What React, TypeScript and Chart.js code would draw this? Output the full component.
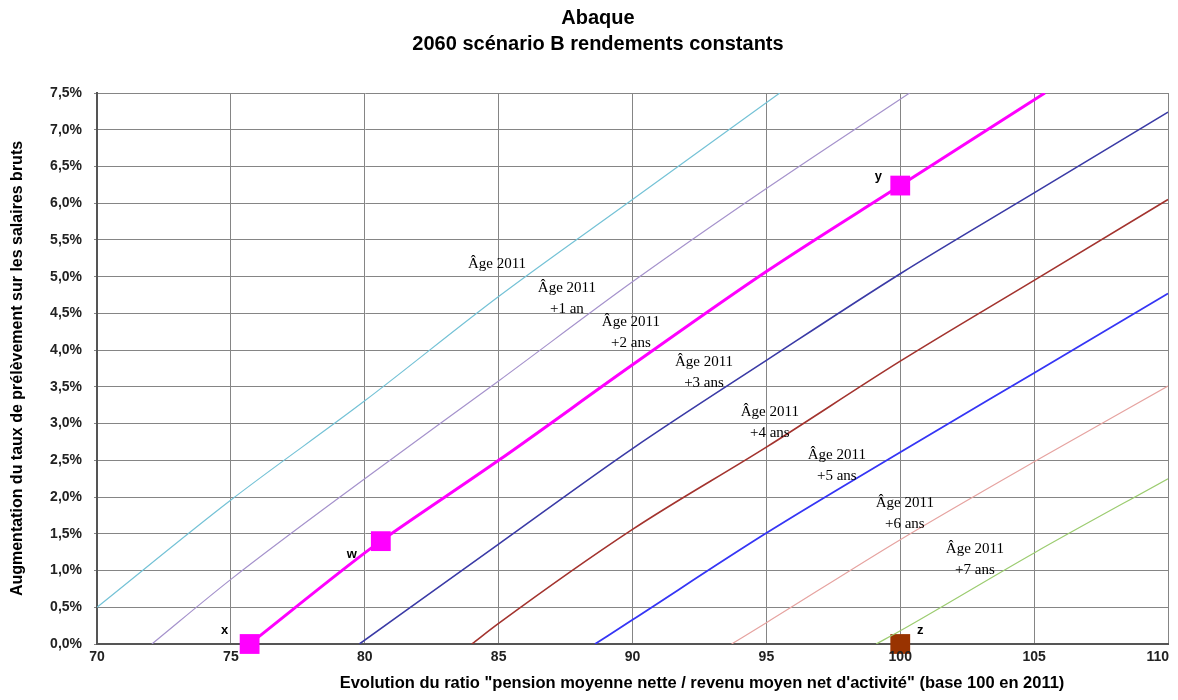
import React, { useEffect, useRef } from "react";
import { Chart, registerables } from "chart.js";

Chart.register(...registerables);

// ---- texts ----
const TITLE_LINES = ["Abaque", "2060 scénario B rendements constants"];
const X_TITLE =
  'Evolution du ratio "pension moyenne nette / revenu moyen net d\'activité" (base 100 en 2011)';
const Y_TITLE = "Augmentation du taux de prélèvement sur les salaires bruts";

// ---- ticks ----
const xTickValues = [70, 75, 80, 85, 90, 95, 100, 105, 110];
const xTickLabels = ["70", "75", "80", "85", "90", "95", "100", "105", "110"];
const yTickValues = [0, 0.5, 1, 1.5, 2, 2.5, 3, 3.5, 4, 4.5, 5, 5.5, 6, 6.5, 7, 7.5];
const yTickLabels = [
  "0,0%", "0,5%", "1,0%", "1,5%", "2,0%", "2,5%", "3,0%", "3,5%",
  "4,0%", "4,5%", "5,0%", "5,5%", "6,0%", "6,5%", "7,0%", "7,5%",
];

// ---- series (x = ratio, y = increase in %) ----
const age0X = [70, 75, 80, 85, 90, 95.5];
const age0Y = [0.5, 1.96, 3.31, 4.73, 6.05, 7.5];
const age1X = [72.05, 75, 80, 85, 90, 95, 100.35];
const age1Y = [0, 0.88, 2.25, 3.58, 4.93, 6.2, 7.5];
const age2X = [75.7, 80, 80.6, 85, 90, 95, 100, 105.4];
const age2Y = [0, 1.24, 1.4, 2.5, 3.8, 5.07, 6.24, 7.5];
const age3X = [79.8, 85, 90, 95, 100, 105, 110];
const age3Y = [0, 1.36, 2.66, 3.86, 5.04, 6.14, 7.24];
const age4X = [84.0, 85, 90, 95, 100, 105, 110];
const age4Y = [0, 0.28, 1.56, 2.68, 3.85, 4.95, 6.05];
const age5X = [88.6, 90, 95, 100, 105, 110];
const age5Y = [0, 0.33, 1.51, 2.61, 3.69, 4.77];
const age6X = [93.7, 95, 100, 105, 110];
const age6Y = [0, 0.29, 1.42, 2.48, 3.51];
const age7X = [99.1, 100, 105, 110];
const age7Y = [0, 0.18, 1.24, 2.25];

const seriesNames = [
  "Âge 2011", "Âge 2011 +1 an", "Âge 2011 +2 ans", "Âge 2011 +3 ans",
  "Âge 2011 +4 ans", "Âge 2011 +5 ans", "Âge 2011 +6 ans", "Âge 2011 +7 ans",
];
const seriesX = [age0X, age1X, age2X, age3X, age4X, age5X, age6X, age7X];
const seriesY = [age0Y, age1Y, age2Y, age3Y, age4Y, age5Y, age6Y, age7Y];
const seriesColors = [
  "#74c2d6", "#a592cc", "#ff00ff", "#3a3aa6",
  "#a3332e", "#3535f5", "#e6a3a0", "#9ccc70",
];
const seriesWidths = [1.2, 1.2, 3, 1.6, 1.6, 1.8, 1.2, 1.2];

// ---- highlighted points ----
const markerNames = ["x", "w", "y", "z"];
const markerX = [75.7, 80.6, 100, 100];
const markerY = [0, 1.4, 6.24, 0];
const markerColors = ["#ff00ff", "#ff00ff", "#ff00ff", "#993300"];
const markerLabelDx = [-25, -29, -22, 20];
const markerLabelDy = [-14, 13, -9, -14];

// ---- curve annotations ----
const noteLine1 = ["Âge 2011", "Âge 2011", "Âge 2011", "Âge 2011", "Âge 2011", "Âge 2011", "Âge 2011", "Âge 2011"];
const noteLine2 = ["", "+1 an", "+2 ans", "+3 ans", "+4 ans", "+5 ans", "+6 ans", "+7 ans"];
const noteX = [84.94, 87.55, 89.94, 92.67, 95.13, 97.63, 100.17, 102.79];
const noteY = [5.17, 4.71, 4.25, 3.7, 3.02, 2.44, 1.78, 1.16];

const SANS = "'Liberation Sans', Arial, sans-serif";
const SERIF = "'Liberation Serif', 'Times New Roman', serif";

const overlayPlugin = {
  id: "overlay",
  afterDraw(chart: any) {
    const { ctx, chartArea } = chart;
    const xs = chart.scales.x;
    const ys = chart.scales.y;
    ctx.save();
    ctx.fillStyle = "#000";
    ctx.textAlign = "center";
    ctx.textBaseline = "middle";
    // title
    ctx.font = `bold 20px ${SANS}`;
    const cx = chart.width / 2 + 9;
    ctx.fillText(TITLE_LINES[0], cx, 10);
    ctx.fillText(TITLE_LINES[1], cx, 36);
    // x tick labels
    ctx.font = `bold 14px ${SANS}`;
    ctx.fillStyle = "#222";
    for (let i = 0; i < xTickValues.length; i++) {
      const w = ctx.measureText(xTickLabels[i]).width;
      const px = Math.min(xs.getPixelForValue(xTickValues[i]), chart.width - w / 2 - 1);
      ctx.fillText(xTickLabels[i], px, chartArea.bottom + 13);
    }
    // x axis title
    ctx.fillStyle = "#000";
    ctx.font = `bold 16.5px ${SANS}`;
    ctx.fillText(X_TITLE, 694, Math.min(chartArea.bottom + 44, chart.height - 9));
    // notes
    ctx.font = `15px ${SERIF}`;
    for (let i = 0; i < noteLine1.length; i++) {
      const px = xs.getPixelForValue(noteX[i]);
      const py = ys.getPixelForValue(noteY[i]);
      if (noteLine2[i]) {
        ctx.fillText(noteLine1[i], px, py - 10);
        ctx.fillText(noteLine2[i], px, py + 11);
      } else {
        ctx.fillText(noteLine1[i], px, py);
      }
    }
    // marker labels
    ctx.font = `bold 13px ${SANS}`;
    for (let i = 0; i < markerNames.length; i++) {
      const px = xs.getPixelForValue(markerX[i]);
      const py = ys.getPixelForValue(markerY[i]);
      ctx.fillText(markerNames[i], px + markerLabelDx[i], py + markerLabelDy[i]);
    }
    ctx.restore();
  },
};

export default function App() {
  const ref = useRef<HTMLCanvasElement | null>(null);

  useEffect(() => {
    if (!ref.current) return;
    const datasets: any[] = seriesNames.map((name, i) => ({
      label: name,
      data: seriesX[i].map((xv, j) => ({ x: xv, y: seriesY[i][j] })),
      borderColor: seriesColors[i],
      backgroundColor: seriesColors[i],
      borderWidth: seriesWidths[i],
      showLine: true,
      pointRadius: 0,
      cubicInterpolationMode: "monotone",
    }));
    datasets.push({
      label: "points",
      data: markerX.map((xv, j) => ({ x: xv, y: markerY[j] })),
      pointStyle: "rect",
      pointRadius: 14,
      pointHoverRadius: 14,
      pointBackgroundColor: markerColors,
      pointBorderColor: markerColors,
      pointBorderWidth: 0,
      showLine: false,
      clip: false,
    });

    const chart = new Chart(ref.current, {
      type: "scatter",
      data: { datasets },
      plugins: [overlayPlugin],
      options: {
        animation: false,
        responsive: true,
        maintainAspectRatio: false,
        layout: { autoPadding: false, padding: { top: 85, right: 2, left: 0, bottom: 0 } },
        plugins: {
          legend: { display: false },
          tooltip: { enabled: false },
          title: { display: false },
        },
        scales: {
          x: {
            type: "linear",
            min: 70,
            max: 110,
            afterBuildTicks: (scale: any) => {
              scale.ticks = xTickValues.map((v) => ({ value: v }));
            },
            afterFit: (scale: any) => {
              scale.height = 48;
              scale.paddingLeft = 0;
              scale.paddingRight = 0;
            },
            ticks: { display: false, padding: 0, callback: () => "" },
            grid: { color: "#858585", lineWidth: 1, tickLength: 0 },
            border: { color: "#555", width: 2 },
          },
          y: {
            type: "linear",
            min: 0,
            max: 7.5,
            afterBuildTicks: (scale: any) => {
              scale.ticks = yTickValues.map((v) => ({ value: v }));
            },
            afterFit: (scale: any) => {
              scale.width = 89;
              scale.paddingTop = 0;
              scale.paddingBottom = 0;
            },
            ticks: {
              autoSkip: false,
              color: "#222",
              padding: 12,
              font: { family: SANS, size: 14, weight: "bold" },
              callback: (v: any) => {
                const k = yTickValues.indexOf(Number(v));
                return k >= 0 ? yTickLabels[k] : "";
              },
            },
            grid: { color: "#858585", lineWidth: 1, tickLength: 3 },
            border: { color: "#555", width: 2 },
            title: {
              display: true,
              text: Y_TITLE,
              color: "#000",
              font: { family: SANS, size: 16, weight: "bold" },
              padding: { top: 0, bottom: 0 },
            },
          },
        },
      },
    });
    return () => chart.destroy();
  }, []);

  return (
    <div style={{ position: "relative", width: "100%", height: "684px", background: "#fff" }}>
      <canvas ref={ref} />
    </div>
  );
}
